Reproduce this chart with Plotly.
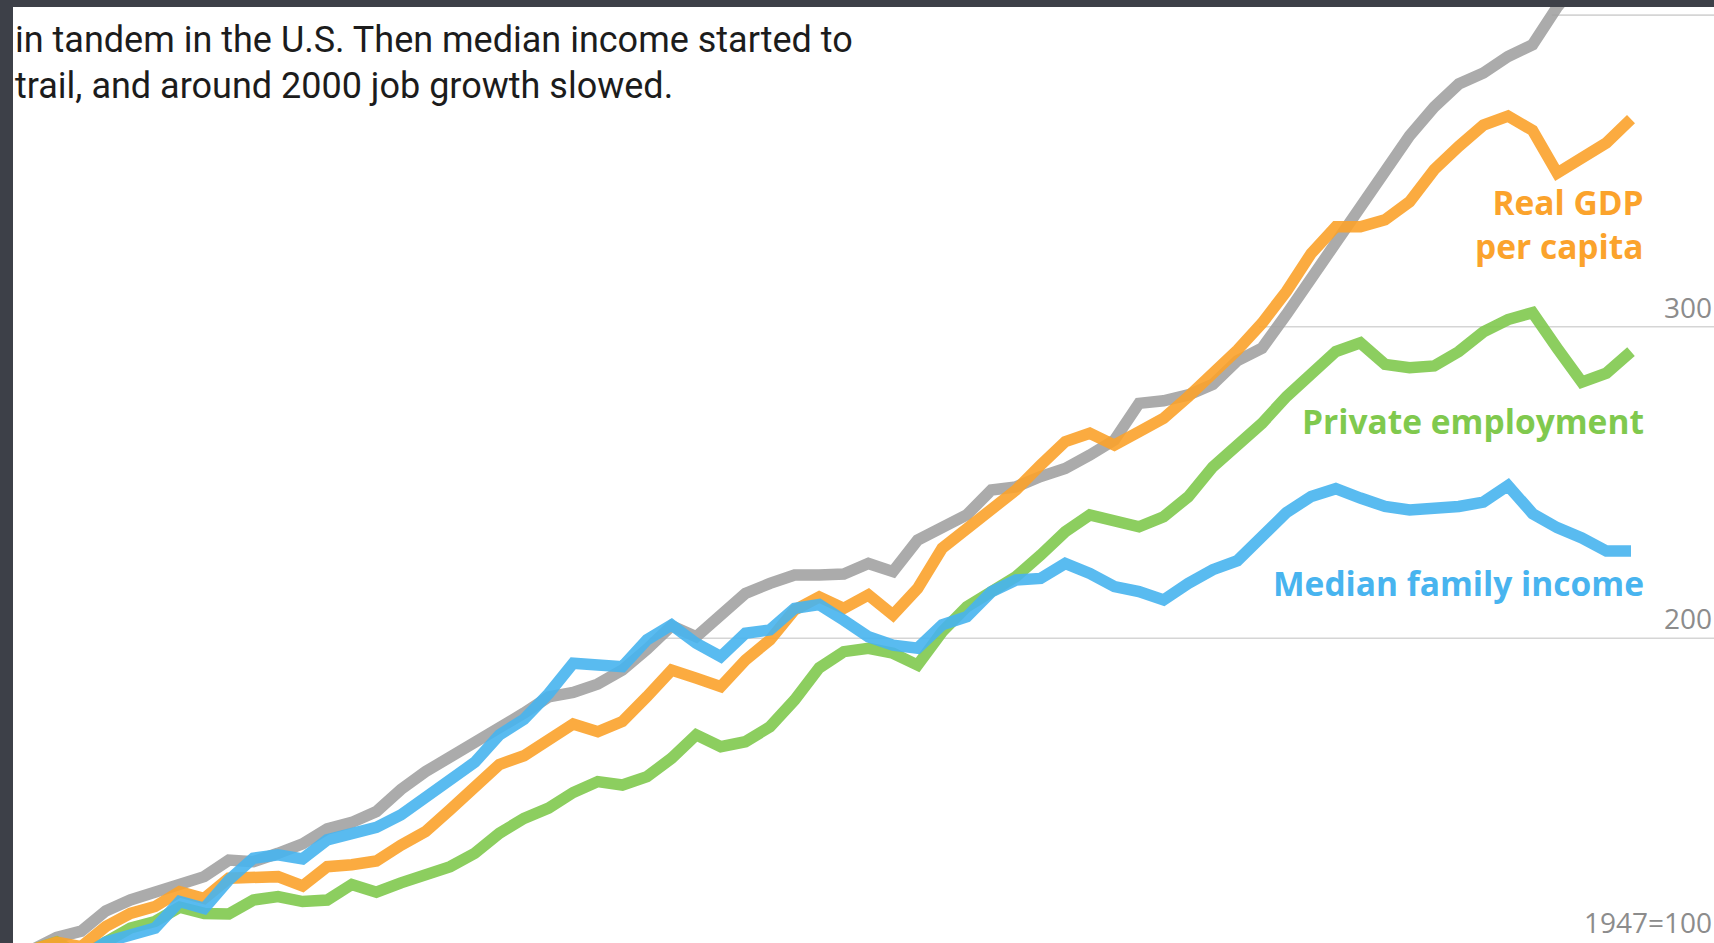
import plotly.graph_objects as go

# ---------------- data (index, 1947 = 100) ----------------
years = list(range(1947, 2013))

productivity = [
    100, 104, 106, 112.5, 116, 118.7, 120.8, 123.5, 128.8, 128.3,
    131, 134, 138.8, 140.9, 144.4, 151.5, 157.2, 161.8, 166.3, 171.6,
    176, 181.2, 182.6, 185.3, 189.8, 196.5, 204, 200.5, 207.5, 214.4,
    217.6, 220.3, 220.3, 220.6, 224, 221.4, 231.5, 235.8, 239.6, 247.6,
    248.6, 251.9, 254.5, 258.8, 263.6, 275.4, 276.2, 278.1, 281.5, 289.1,
    293.1, 304, 315.4, 325.8, 337.2, 349.8, 361.3, 370.5, 377.9, 381.4,
    386.7, 390.5, 402.6, 412, 413, 415,
]

gdp_per_capita = [
    100, 102.5, 101, 107.5, 111.7, 113.9, 118.7, 116.5, 123, 123.5,
    123.5, 120.5, 126.7, 127.3, 128.5, 133.6, 138, 145, 152.5, 159.5,
    162.3, 167.9, 172.5, 170, 173.3, 181.3, 189.8, 187.2, 184.5, 193,
    199.5, 209.1, 213.3, 209.6, 213.9, 207.5, 216, 228.9, 235.3, 241.7,
    247.6, 255.6, 263.1, 265.8, 262, 266.3, 270.6, 277.5, 284.5, 292.5,
    301.1, 311.4, 323.5, 332.1, 332.1, 334.3, 340.1, 350.4, 357.9, 364.7,
    367.6, 363, 349.3, 353.8, 359, 366.6,
]

private_employment = [
    100, 102.5, 98, 103, 107, 109.1, 113.7, 111.7, 111.5, 116,
    117.1, 115.5, 116, 121, 118.5, 121.5, 124, 126.7, 131, 137.4,
    142.2, 145.5, 150.5, 154, 152.9, 155.6, 161.5, 169, 165.2, 166.8,
    171.6, 180.2, 190.5, 195.7, 196.8, 195.2, 191.4, 202.1, 210.1, 215.5,
    219.8, 226.7, 234.2, 239.6, 238, 235.8, 239, 245.4, 255, 261.6,
    269, 277.6, 285.1, 292, 294.8, 287.9, 286.8, 287.4, 292, 298.3,
    302.3, 304.5, 293.1, 282.2, 285.1, 292,
]

median_family_income = [
    100, 99, 97.5, 102.5, 104.5, 107, 115.5, 113.3, 122.4, 129.4,
    130.5, 129.2, 135.3, 137.4, 139.3, 143.3, 148.6, 153.8, 160.2, 169,
    174, 182.2, 192, 191.4, 190.9, 199.5, 204.3, 198.4, 194.1, 201.6,
    202.7, 209.6, 210.8, 205.8, 200.5, 197.8, 196.8, 204.3, 206.9, 214.9,
    218.7, 219.2, 224, 220.8, 216.6, 215, 212.3, 217.6, 222, 224.9,
    232.4, 240.4, 245.5, 248, 245, 242.3, 241.2, 241.5, 242.3, 243.7,
    249, 240, 235.5, 232.2, 228, 228,
]

grid_levels = [200, 300, 400]
axis_label_levels = [100, 200, 300]
axis_label_texts = ["1947=100", "200", "300"]

header_lines = [
    "in tandem in the U.S. Then median income started to",
    "trail, and around 2000 job growth slowed.",
]

# ---------------- styling ----------------
W, H = 1714, 943
ML, MT = 13, 7
X_RANGE = [1946.228, 2015.374]
Y_RANGE = [102.2, 402.6]

GRAY = "#a2a2a2"
ORANGE = "#fba32c"
GREEN = "#80c94e"
BLUE = "#48b4ef"

series = [
    ("Labor productivity", productivity, GRAY),
    ("Private employment", private_employment, GREEN),
    ("Real GDP per capita", gdp_per_capita, ORANGE),
    ("Median family income", median_family_income, BLUE),
]

fig = go.Figure()
for name, vals, col in series:
    fig.add_trace(go.Scatter(
        x=years, y=vals, mode="lines", name=name,
        line=dict(color=col, width=11.5),
        opacity=0.9, hoverinfo="skip",
    ))


def px_to_paper_y(py):
    return 1 - (py - MT) / (H - MT)


def px_to_paper_x(px):
    return (px - ML) / (W - ML)


def value_to_paper_y(v):
    return (v - Y_RANGE[0]) / (Y_RANGE[1] - Y_RANGE[0])


# gridlines start where the highest series first reaches the level
shapes = []
all_series = [productivity, gdp_per_capita, private_employment, median_family_income]
for lvl in grid_levels:
    start = None
    for i in range(1, len(years)):
        prev = max(s[i - 1] for s in all_series)
        cur = max(s[i] for s in all_series)
        if prev < lvl <= cur:
            start = years[i - 1] + (lvl - prev) / (cur - prev)
            break
    if start is None:
        start = X_RANGE[0]
    shapes.append(dict(
        type="line", xref="x", yref="y", x0=start, x1=X_RANGE[1], y0=lvl, y1=lvl,
        line=dict(color="#d5d5d5", width=1.6), layer="below",
    ))

annotations = []
label_shifts = [7, -1, -1]
for lvl, txt, ys in zip(axis_label_levels, axis_label_texts, label_shifts):
    annotations.append(dict(
        x=1, xref="paper", xanchor="right",
        y=value_to_paper_y(lvl), yref="paper", yanchor="bottom",
        yshift=ys, text=txt, showarrow=False,
        font=dict(family="Open Sans", size=28, color="#8c8c8c"),
    ))

label_font = dict(family="Open Sans", size=33.5, weight=700)
series_labels = [
    ("Real GDP<br>per capita", 224, ORANGE),
    ("Private employment", 421, GREEN),
    ("Median family income", 583, BLUE),
]
for txt, cy, col in series_labels:
    annotations.append(dict(
        x=px_to_paper_x(1646), xref="paper", xanchor="right", align="right",
        y=px_to_paper_y(cy), yref="paper", yanchor="middle",
        text=txt, showarrow=False,
        font=dict(color=col, **label_font),
    ))

for i, line in enumerate(header_lines):
    annotations.append(dict(
        x=px_to_paper_x(13), xref="paper", xanchor="left",
        y=px_to_paper_y(40 + 46 * i), yref="paper", yanchor="middle",
        text=line, showarrow=False,
        font=dict(family="Roboto", size=36, color="#1c1c1c"),
    ))

fig.update_layout(
    width=W, height=H, autosize=False,
    margin=dict(l=ML, r=0, t=MT, b=0, pad=0),
    paper_bgcolor="#3d4048",
    plot_bgcolor="#ffffff",
    showlegend=False,
    shapes=shapes,
    annotations=annotations,
    xaxis=dict(range=X_RANGE, showgrid=False, zeroline=False, showticklabels=False,
               ticks="", showline=True, linecolor="#d8d8d8", linewidth=2, fixedrange=True),
    yaxis=dict(range=Y_RANGE, showgrid=False, zeroline=False, showticklabels=False,
               ticks="", showline=False, fixedrange=True),
)

fig.write_html(
    "out.html",
    config={"displayModeBar": False},
    post_script="document.body.style.margin='0px';document.body.style.overflow='hidden';",
)
